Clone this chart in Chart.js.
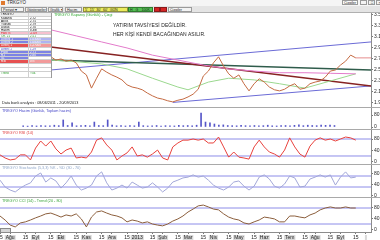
<!DOCTYPE html>
<html lang="tr">
<head>
<meta charset="utf-8">
<title>TRKGYO</title>
<script src="https://cdn.jsdelivr.net/npm/chart.js@4.4.1/dist/chart.umd.min.js"></script>
<style>
  html, body { margin: 0; padding: 0; }
  body { width: 380px; height: 240px; overflow: hidden; position: relative; background: #fff;
         font-family: 'Liberation Sans', Arial, sans-serif; }
  canvas { position: absolute; left: 0; }
  .o { position: absolute; white-space: nowrap; z-index: 2; }
  .sep { position: absolute; left: 0; width: 380px; height: 1px; background: #a9a9a9; z-index: 3; }
  #title { left: 0; top: 0; width: 380px; height: 6px; background: #f5f5f5; font-size: 4.5px; line-height: 6px; color: #222; }
  #tools { left: 0; top: 6px; width: 380px; height: 7px; background: #e4e4e4; border-bottom: 1px solid #b0b0b0; box-sizing: border-box; }
  .btn { position: absolute; top: 1px; height: 5px; font-size: 3.6px; line-height: 4px; border: 1px solid #9a9a9a;
         box-sizing: border-box; padding-left: 1px; background: #f3f3f3; color: #222; overflow: hidden; }
  #info { left: 0; top: 13px; width: 52px; height: 65px; background: #fff; border-right: 1px solid #9a9a9a;
          border-bottom: 1px solid #9a9a9a; box-sizing: border-box; z-index: 4; }
  .row { display: flex; box-sizing: border-box; border-bottom: 1px solid #cfcfcf; font-size: 3px; line-height: 3px; overflow: hidden; }
  .row span:first-child { width: 27px; border-right: 1px solid #cfcfcf; padding-left: 1px; }
  .row span:last-child { flex: 1; padding-left: 1px; }
  .lbl { font-size: 3.8px; }
  .warn { font-size: 5px; color: #1b1b1b; letter-spacing: 0.05px; }
</style>
</head>
<body>
<div id="title" class="o"><span style="display:inline-block;width:4px;height:4px;background:#e07a2e;margin:1px 2px 0 1px;vertical-align:top"></span>TRKGYO
  <span class="btn" style="left:342px;top:0;width:16px;background:#fbfbfb">Çizgiler ▾</span>
  <span class="btn" style="left:360px;top:0;width:7px;text-align:center">_</span>
  <span class="btn" style="left:368px;top:0;width:7px;text-align:center">□</span>
  <span class="btn" style="left:376px;top:0;width:6px;text-align:center">×</span>
</div>
<div id="tools" class="o">
  <span class="btn" style="left:1px;width:23px">Periyot ▾</span>
  <span class="btn" style="left:25px;width:22px">Göstergeler ▾</span>
  <span class="btn" style="left:48px;width:15px">Grafik ▾</span>
  <span class="btn" style="left:65px;width:17px">Hacim</span>
  <span class="btn" style="left:83px;width:45px;background:#ecec5c;border-color:#8f8f3a">5' &nbsp;15' &nbsp;30' &nbsp;60' &nbsp;GÜN</span>
  <span class="btn" style="left:128px;width:25px;background:#52c052;border-color:#2e7d2e">H &nbsp; G &nbsp; 100K</span>
  <span class="btn" style="left:154px;width:6px;background:#d42424;border-color:#8a1a1a"></span>
  <span class="btn" style="left:160px;width:7px;background:#d42424;border-color:#8a1a1a"></span>
  <span class="btn" style="left:168px;width:24px">Çizgiler</span>
</div>

<canvas id="cMain" width="380" height="94" style="top:13px"></canvas>
<canvas id="cVol" width="380" height="22" style="top:108px"></canvas>
<canvas id="cRsi" width="380" height="35" style="top:130px"></canvas>
<canvas id="cSto" width="380" height="33" style="top:165px"></canvas>
<canvas id="cOsc" width="380" height="42" style="top:198px"></canvas>

<div id="info" class="o"></div>
<div class="o lbl" style="left:54px;top:13px;color:#2fa82f">TRKGYO Kapanış (Günlük) - Çizgi</div>
<div class="o warn" style="left:113px;top:22px">YATIRIM TAVSİYESİ DEĞİLDİR.</div>
<div class="o warn" style="left:113px;top:31px">HER KİŞİ KENDİ BACAĞINDAN ASILIR.</div>
<div class="o lbl" style="left:2px;top:101px;color:#222">Data bank analysis : 08/06/2011 - 20/09/2013</div>
<div class="o lbl" style="left:2px;top:109px;color:#4646c8">TRKGYO Hacim (Günlük, Toplam hacim)</div>
<div class="o lbl" style="left:2px;top:131px;color:#e03a3a">TRKGYO RSI (14)</div>
<div class="o lbl" style="left:2px;top:166px;color:#8fa6c8">TRKGYO Stochastic (5,3,3) %K - %D (30 - 70)</div>
<div class="o lbl" style="left:2px;top:199px;color:#3aa53a">TRKGYO CCI (14) - Trend (20 - 80)</div>

<div class="sep" style="top:107px"></div>
<div class="sep" style="top:129px"></div>
<div class="sep" style="top:164px"></div>
<div class="sep" style="top:197px"></div>
<div class="o" style="left:0;top:228px;width:11px;height:5px;background:#d6d6d6;border:1px solid #8a8a8a;box-sizing:border-box"></div>

<script>
// x slots: one per ~4 trading days, last three slots are empty space on the right
const N = 73;

// tick labels for the date axis
const xMonths = ['Ağu', 'Eyl', 'Eki', 'Kas', 'Ara', '2013', 'Şub', 'Mar', 'Nis', 'May', 'Haz', 'Tem', 'Ağu', 'Eyl'];
const xMid = '15';

// closing price (hidden behind the info box on the far left)
const close = [null, null, null, null, null, null, null, null, null, null,
  2.74, 2.68, 2.70, 2.66, 2.68, 2.63, 2.48, 2.41, 2.17, 2.35,
  2.52, 2.46, 2.41, 2.37, 2.32, 2.23, 2.19, 2.17, 2.14, 2.08,
  2.03, 1.99, 1.97, 1.94, 1.92, 1.95, 1.97, 2.01, 2.06, 2.15,
  2.39, 2.48, 2.63, 2.74, 2.57, 2.43, 2.35, 2.41, 2.25, 2.12,
  2.25, 2.34, 2.28, 2.19, 2.14, 2.12, 2.15, 2.21, 2.25, 2.15,
  2.17, 2.25, 2.28, 2.30, 2.37, 2.48, 2.50, 2.59, 2.66, 2.77,
  2.72];

const maPink = [[10, 3.23], [15, 3.12], [20, 3.01], [25, 2.90], [30, 2.77], [35, 2.68], [40, 2.59],
  [45, 2.52], [50, 2.48], [55, 2.45], [60, 2.45], [65, 2.44], [70, 2.43]];
const maGreen = [[10, 2.68], [15, 2.65], [20, 2.61], [25, 2.52], [30, 2.35], [35, 2.19], [37, 2.14],
  [41, 2.28], [45, 2.35], [50, 2.32], [55, 2.25], [60, 2.17], [65, 2.30], [70, 2.43]];

// trend lines [slot, value]
const trendRed = [[10, 2.92], [73, 2.21]];
const trendDark = [[10, 2.68], [73, 2.50]];
const channelTop = [[10, 2.50], [73, 3.01]];
const channelLow = [[34, 1.91], [73, 2.21]];

const priceTicks = [1.9, 2.0, 2.1, 2.2, 2.3, 2.4, 2.5, 2.6, 2.7, 2.8, 2.9, 3.0, 3.1, 3.2, 3.3, 3.4, 3.5];

const volume = [8, 6, 10, 7, 9, 8, 7, 12, 9, 47,
  10, 27, 8, 9, 11, 7, 33, 10, 9, 47,
  12, 8, 9, 7, 10, 8, 33, 9, 7, 8,
  10, 6, 9, 8, 7, 11, 9, 10, 8, 12,
  93, 33, 27, 20, 12, 14, 10, 9, 8, 11,
  9, 7, 10, 8, 9, 12, 8, 7, 9, 10,
  8, 11, 14, 9, 12, 10, 9, 13, 11, 12, 10];
const volTicks = [0, 40, 80, 120];

const rsi = [24, 13, 6, 9, 24, 24, 6, 48, 73, 55,
  73, 45, 27, 41, 48, 13, 16, 13, 34, 76,
  84, 59, 41, 6, 20, 31, 52, 20, 24, 16,
  27, 41, 13, 6, 52, 66, 76, 76, 80, 76,
  80, 66, 66, 87, 52, 16, 34, 16, 13, 9,
  52, 76, 52, 34, 27, 16, 41, 84, 52, 27,
  16, 55, 76, 84, 76, 80, 73, 80, 87, 84, 76];
const rsiLevels = [20, 80];

const stoch = [55, 30, 19, 12, 26, 37, 45, 70, 81, 48,
  63, 52, 26, 45, 70, 37, 19, 26, 37, 70,
  85, 45, 19, 26, 37, 26, 48, 37, 26, 30,
  45, 30, 12, 26, 48, 55, 63, 66, 74, 66,
  70, 55, 37, 26, 19, 30, 48, 52, 33, 19,
  33, 66, 74, 59, 33, 26, 41, 70, 63, 30,
  33, 59, 66, 74, 66, 74, 37, 66, 85, 63, 66];
const stochLevels = [30, 70];

const osc = [50, 35, 16, 9, 24, 28, 35, 43, 50, 58,
  61, 54, 46, 54, 50, 58, 39, 9, 46, 65,
  69, 61, 54, 50, 43, 28, 35, 31, 24, 28,
  20, 16, 13, 20, 31, 39, 50, 65, 76, 88,
  91, 84, 76, 73, 58, 46, 39, 35, 24, 20,
  28, 35, 46, 43, 39, 28, 28, 50, 50, 46,
  43, 54, 61, 73, 80, 84, 80, 80, 84, 80, 80];
const oscLevels = [20, 80];
const indTicks = [0, 20, 40, 60, 80, 100];

// info box on the left
const infoRows = [
  ['TRKGYO', '', '#efefef', '#000', 4],
  ['Kapanış', '2,72', '#fff', '#000', 3],
  ['Açılış', '2,75', '#fff', '#000', 3],
  ['Yüksek', '2,79', '#fff', '#000', 3],
  ['Düşük', '2,70', '#fff', '#000', 3],
  ['Hacim', '8,3M', '#fff', '#000', 3],
  ['Fark %', '-1,09', '#f6c1cf', '#d21e1e', 3],
  ['Ort. 21', '2,51', '#fff', '#2e9e2e', 3],
  ['Destek 1', '1,03000', '#7c83e4', '#fff', 3, '#aeb3f2'],
  ['Destek 2', '1,04000', '#7c83e4', '#fff', 3, '#aeb3f2'],
  ['Direnç 1', '1,27000', '#e65050', '#fff', 4, '#f29a9a'],
  ['Direnç 2', '1,29', '#fff', '#3d45c8', 3],
  ['Pivot', '2,71', '#7c83e4', '#fff', 3],
  ['R1', '2,80', '#7c83e4', '#fff', 3],
  ['S1', '0%', '#7c83e4', '#fff', 3, '#fff'],
  ['RSI', '0%', '#e65050', '#fff', 4, '#f29a9a'],
  ['', '', '#fff', '#000', 4],
  ['', '', '#fff', '#000', 4],
  ['Trend', 'Yük.', '#fff', '#2e9e2e', 6]
];
const info = document.getElementById('info');
infoRows.forEach(([a, b, bg, fg, h, bg2]) => {
  const r = document.createElement('div');
  r.className = 'row';
  r.style.height = h + 'px';
  r.innerHTML = '<span style="background:' + bg + ';color:' + fg + '">' + a + '</span>' +
    '<span style="background:' + (bg2 || bg) + ';color:' + fg + '">' + b + '</span>';
  info.appendChild(r);
});

const pts = a => a.map((v, i) => v == null ? null : { x: i, y: v }).filter(Boolean);
const pairs = a => a.map(([x, y]) => ({ x, y }));
const level = v => pairs([[0, v], [N, v]]);

function lineDs(data, color, width, order) {
  return { type: 'line', data, borderColor: color, borderWidth: width || 1, pointRadius: 0,
           tension: 0, spanGaps: true, fill: false, order: order || 1 };
}

function yAxis(min, max, ticks, fmt) {
  return {
    position: 'right', min, max,
    afterBuildTicks: s => { s.ticks = ticks.map(value => ({ value })); },
    afterFit: s => { s.width = 9; s.paddingTop = 0; s.paddingBottom = 0; },
    border: { display: true, color: '#8c8c8c' },
    grid: { drawOnChartArea: false, tickLength: 2, color: '#777' },
    ticks: { font: { size: 5, family: 'Liberation Sans' }, color: '#1e1e1e', padding: 1,
             callback: fmt || (v => String(v)) }
  };
}

const hiddenX = () => ({ type: 'linear', min: 0, max: N, display: false });

const dateX = {
  type: 'linear', min: 0, max: N,
  afterBuildTicks: s => {
    const t = [];
    for (let i = 0; i <= N; i++) if (i % 5 === 0 || i % 5 === 2) t.push({ value: i });
    s.ticks = t;
  },
  afterFit: s => { s.height = 8; s.paddingLeft = 0; s.paddingRight = 0; },
  border: { display: true, color: '#8c8c8c' },
  grid: { drawOnChartArea: false, tickLength: 2, color: '#777' },
  ticks: {
    font: { size: 5, family: 'Liberation Sans' }, color: '#222', padding: 1, maxRotation: 0, autoSkip: false,
    callback: v => v % 5 === 2 ? (xMonths[(v - 2) / 5] || '') : xMid,
    showLabelBackdrop: c => c.tick ? c.tick.value % 5 === 2 : false,
    backdropColor: '#d9d9d9', backdropPadding: { top: 0, bottom: 0, left: 1, right: 1 }
  }
};

function panel(id, datasets, y, x) {
  return new Chart(document.getElementById(id), {
    type: 'line',
    data: { datasets },
    options: {
      responsive: false, animation: false, events: [],
      layout: { padding: 0 },
      plugins: { legend: { display: false }, tooltip: { enabled: false } },
      scales: { x: x || hiddenX(), y }
    }
  });
}

const last = close[close.length - 1];

panel('cMain', [
  lineDs(pts(close), '#c46a42', 1, 0),
  lineDs(pairs([[close.length - 1, last], [N, last]]), '#e58c8c', 1, 1),
  lineDs(pairs(maPink), '#e37bcb', 1, 2),
  lineDs(pairs(maGreen), '#9bd88f', 1, 3),
  lineDs(pairs(trendRed), '#862222', 1.5, 4),
  lineDs(pairs(trendDark), '#2f5c4b', 1.5, 5),
  lineDs(pairs(channelTop), '#6b6bd6', 1, 6),
  lineDs(pairs(channelLow), '#6b6bd6', 1, 7)
], yAxis(1.827, 3.536, priceTicks, v => v.toFixed(2)));

panel('cVol', [
  { type: 'bar', data: pts(volume), backgroundColor: '#5656c8', barThickness: 1 }
], yAxis(-20, 126.7, volTicks));

panel('cRsi', [
  lineDs(pts(rsi), '#e8413c', 1, 0),
  ...rsiLevels.map(v => lineDs(level(v), '#8c8ce8', 1, 2))
], yAxis(-11.8, 111.8, indTicks));

panel('cSto', [
  lineDs(pts(stoch), '#a2a7d8', 1, 0),
  ...stochLevels.map(v => lineDs(level(v), '#8c8ce8', 1, 2))
], yAxis(-10, 110, indTicks));

panel('cOsc', [
  lineDs(pts(osc), '#8b5e3c', 1, 0),
  ...oscLevels.map(v => lineDs(level(v), '#8c8ce8', 1, 2))
], yAxis(-10, 117.5, indTicks), dateX);
</script>
</body>
</html>
